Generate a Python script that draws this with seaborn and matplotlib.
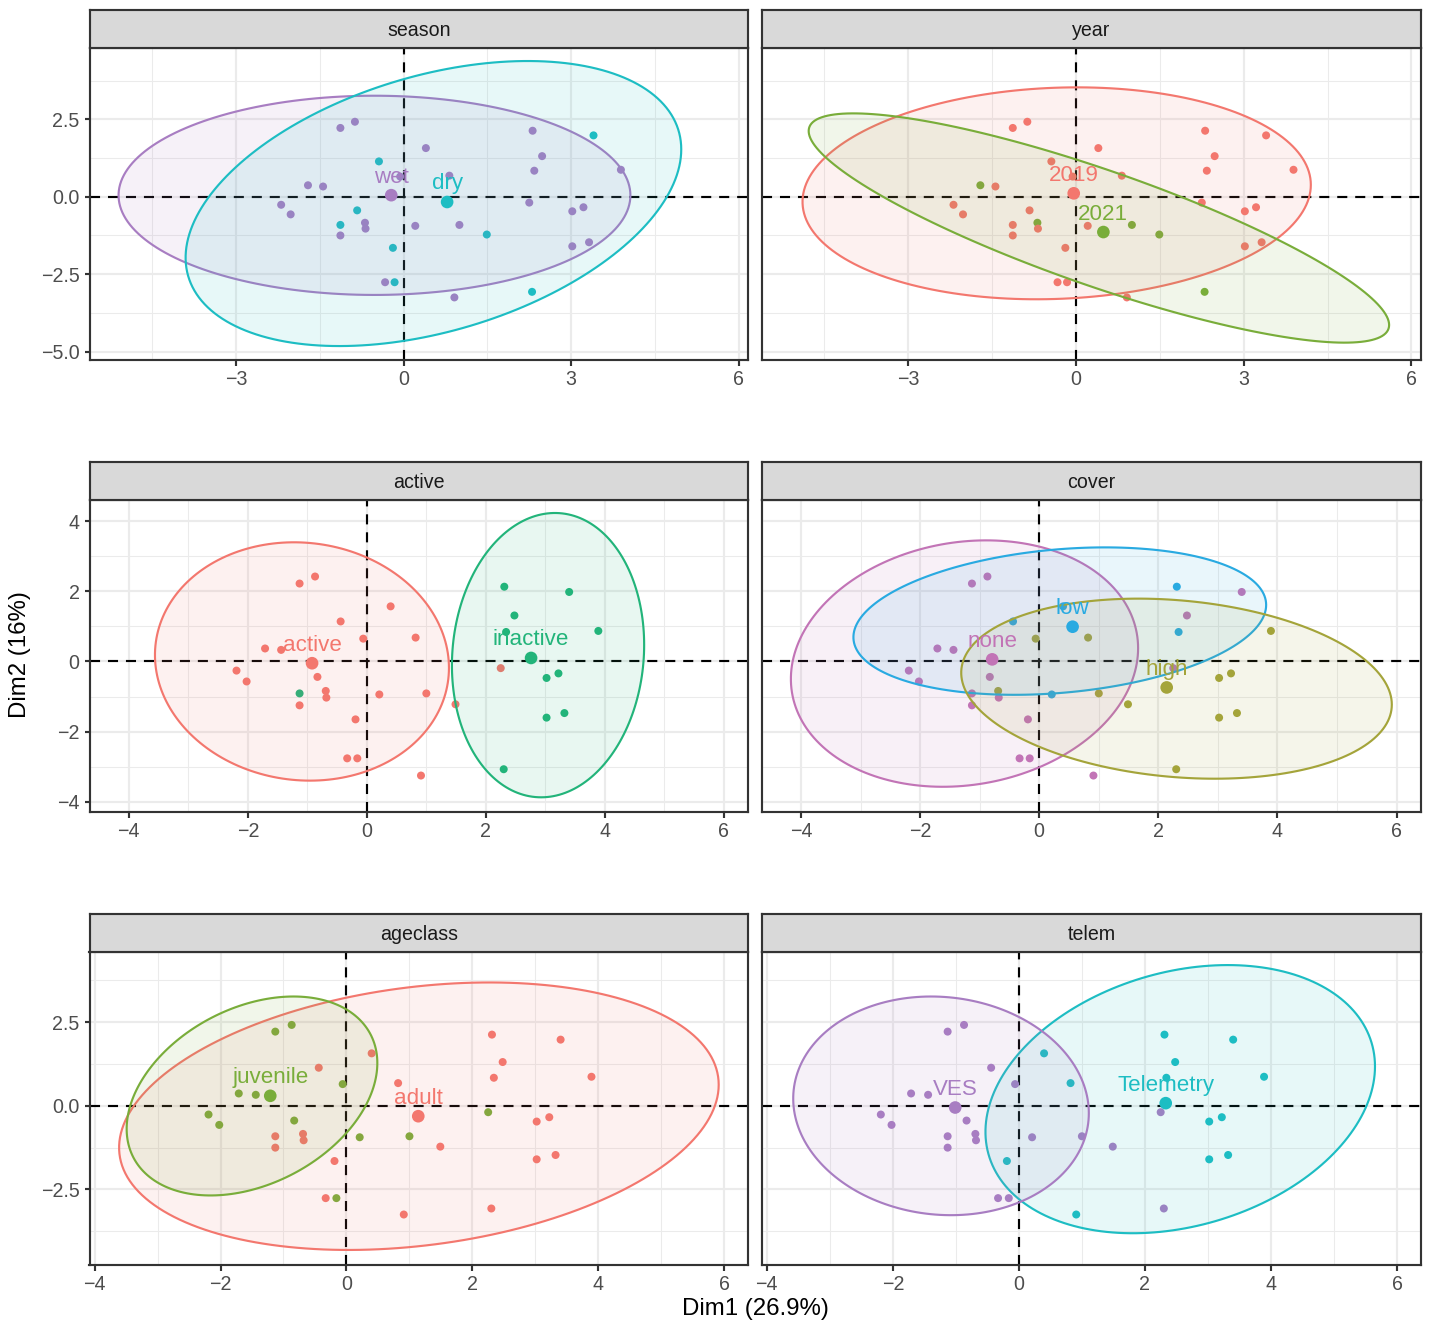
import numpy as np
import pandas as pd
import matplotlib
matplotlib.use("Agg")
import matplotlib.pyplot as plt
from matplotlib.patches import Polygon
from matplotlib.colors import to_rgba
from matplotlib.ticker import MultipleLocator, FuncFormatter
import seaborn as sns

# ---------------- data ----------------
dim1 = [-0.87, -1.13, 0.40, -0.44, 0.82, -0.06, -1.71, -1.44, -2.19, -2.02,
        -0.83, -0.69, -0.68, -1.13, 0.21, 1.00, 1.49, -0.19, -0.33, -0.16,
        0.91, 2.25, 2.31, 3.40, 2.48, 2.34, 3.89, 3.22, 3.02, 3.32,
        3.02, 2.30, -1.13]
dim2 = [2.42, 2.22, 1.57, 1.14, 0.68, 0.65, 0.37, 0.33, -0.26, -0.57,
        -0.44, -0.84, -1.03, -1.25, -0.94, -0.91, -1.22, -1.65, -2.76, -2.76,
        -3.25, -0.19, 2.13, 1.98, 1.31, 0.84, 0.87, -0.34, -0.47, -1.47,
        -1.60, -3.07, -0.91]

season = ["wet", "wet", "wet", "dry", "wet", "wet", "wet", "wet", "wet", "wet",
          "dry", "wet", "wet", "wet", "wet", "wet", "dry", "dry", "wet", "dry",
          "wet", "wet", "wet", "dry", "wet", "wet", "wet", "wet", "wet", "wet",
          "wet", "dry", "dry"]
year = ["2019", "2019", "2019", "2019", "2019", "2019", "2021", "2019", "2019", "2019",
        "2019", "2021", "2019", "2019", "2019", "2021", "2021", "2019", "2019", "2019",
        "2019", "2019", "2019", "2019", "2019", "2019", "2019", "2019", "2019", "2019",
        "2019", "2021", "2019"]
active = ["active"] * 22 + ["inactive"] * 11
cover = ["none", "none", "low", "low", "high", "high", "none", "none", "none", "none",
         "none", "high", "none", "none", "low", "high", "high", "none", "none", "none",
         "none", "none", "low", "none", "none", "low", "high", "high", "high", "high",
         "high", "high", "none"]
ageclass = ["juvenile", "juvenile", "adult", "adult", "adult", "juvenile", "juvenile", "juvenile",
            "juvenile", "juvenile", "juvenile", "adult", "adult", "adult", "juvenile", "juvenile",
            "adult", "adult", "adult", "juvenile", "adult", "juvenile", "adult", "adult",
            "adult", "adult", "adult", "adult", "adult", "adult", "adult", "adult", "adult"]
telem = ["VES", "VES", "Telemetry", "VES", "Telemetry", "VES", "VES", "VES", "VES", "VES",
         "VES", "VES", "VES", "VES", "VES", "VES", "VES", "Telemetry", "VES", "VES",
         "Telemetry", "VES", "Telemetry", "Telemetry", "Telemetry", "Telemetry", "Telemetry",
         "Telemetry", "Telemetry", "Telemetry", "Telemetry", "VES", "VES"]

# group summaries: mean points and normal-ellipse parameters
grp_facet = ["season", "season", "year", "year", "active", "active",
             "cover", "cover", "cover", "ageclass", "ageclass", "telem", "telem"]
grp_level = ["wet", "dry", "2019", "2021", "active", "inactive",
             "none", "low", "high", "adult", "juvenile", "Telemetry", "VES"]
grp_mean1 = [-0.22, 0.78, -0.04, 0.49, -0.92, 2.76, -0.79, 0.56, 2.14, 1.14, -1.21, 2.33, -1.01]
grp_mean2 = [0.05, -0.17, 0.11, -1.14, -0.05, 0.10, 0.06, 0.99, -0.74, -0.31, 0.30, 0.08, -0.05]
ell_cx = [-0.52, 0.535, -0.345, 0.41, -1.09, 3.045, -1.255, 0.345, 2.305, 1.15, -1.50, 2.56, -1.235]
ell_cy = [0.045, -0.22, 0.11, -1.01, 0.0, 0.18, -0.06, 1.15, -0.775, -0.31, 0.295, 0.20, 0.0]
ell_sx = [4.58, 4.435, 4.545, 5.19, 2.47, 1.615, 2.915, 3.465, 3.615, 4.76, 1.99, 3.09, 2.345]
ell_sy = [3.215, 4.60, 3.42, 3.70, 3.395, 4.05, 3.51, 2.10, 2.565, 4.00, 2.975, 4.01, 3.27]
ell_rho = [0.0, 0.38, 0.08, -0.846, -0.054, 0.072, 0.125, 0.219, -0.177, 0.235, 0.331, 0.244, -0.067]

df = pd.DataFrame({"Dim1": dim1, "Dim2": dim2, "season": season, "year": year,
                   "active": active, "cover": cover, "ageclass": ageclass, "telem": telem})
gdf = pd.DataFrame({"facet": grp_facet, "level": grp_level, "m1": grp_mean1, "m2": grp_mean2,
                    "cx": ell_cx, "cy": ell_cy, "sx": ell_sx, "sy": ell_sy, "rho": ell_rho})

# ---------------- styling ----------------
plt.rcParams["font.family"] = ["Liberation Sans", "DejaVu Sans"]
RED, GREEN, CYAN, PURPLE = "#F3776E", "#79AD3A", "#1DBDC3", "#A87DC2"
pal_row = [
    {"2019": RED, "2021": GREEN, "dry": CYAN, "wet": PURPLE},
    {"active": RED, "high": "#A4A43A", "inactive": "#22B47A", "low": "#29AAE1", "none": "#C274B6"},
    {"adult": RED, "juvenile": GREEN, "Telemetry": CYAN, "VES": PURPLE},
]
facets = [["season", "year"], ["active", "cover"], ["ageclass", "telem"]]
row_xlim = [(-5.62, 6.17), (-4.66, 6.41), (-4.08, 6.38)]
row_ylim = [(-5.27, 4.81), (-4.28, 4.60), (-4.76, 4.61)]
row_xmaj = [3, 2, 2]
row_ymaj = [2.5, 2, 2.5]
row_ydec = [1, 0, 1]


def make_fmt(dec):
    return FuncFormatter(lambda v, p: f"{v:.{dec}f}".replace("-", "\u2212"))


W, H = 1432, 1321
DPI = 144
fig = plt.figure(figsize=(W / DPI, H / DPI), dpi=DPI)

col_x = [(89.5, 748.3), (761.7, 1421.0)]
row_y = [(47.7, 360.0), (500.0, 811.7), (951.7, 1265.0)]
strip_h = 38.0

dark = "#333333"
for r in range(3):
    for c in range(2):
        var = facets[r][c]
        pal = pal_row[r]
        x0, x1 = col_x[c]
        y0, y1 = row_y[r]
        ax = fig.add_axes([x0 / W, 1 - y1 / H, (x1 - x0) / W, (y1 - y0) / H])
        sax = fig.add_axes([x0 / W, 1 - y0 / H, (x1 - x0) / W, strip_h / H])
        # strip
        sax.set_facecolor("#D9D9D9")
        sax.set_xticks([]); sax.set_yticks([])
        for sp in sax.spines.values():
            sp.set_color(dark); sp.set_linewidth(1.07)
        sax.text(0.5, 0.5, var, ha="center", va="center_baseline", fontsize=9.8,
                 color="#1A1A1A", transform=sax.transAxes)

        ax.set_facecolor("white")
        ax.set_axisbelow(True)
        ax.axhline(0, color="black", lw=1.07, ls=(0, (4.7, 3.7)), zorder=1.5)
        ax.axvline(0, color="black", lw=1.07, ls=(0, (4.7, 3.7)), zorder=1.5)

        sns.scatterplot(data=df, x="Dim1", y="Dim2", hue=var, palette=pal, s=16,
                        linewidth=0, legend=False, ax=ax, zorder=2)

        sub = gdf[gdf["facet"] == var]
        t = np.linspace(0, 2 * np.pi, 200)
        for _, g in sub.iterrows():
            col = pal[g["level"]]
            ex = g["cx"] + g["sx"] * np.cos(t)
            ey = g["cy"] + g["sy"] * (g["rho"] * np.cos(t) + np.sqrt(1 - g["rho"] ** 2) * np.sin(t))
            poly = Polygon(np.column_stack([ex, ey]), closed=True, facecolor=to_rgba(col, 0.1),
                           edgecolor=col, linewidth=1.07, zorder=3)
            ax.add_patch(poly)
        sns.scatterplot(data=sub, x="m1", y="m2", hue="level", palette=pal, s=40,
                        linewidth=0, legend=False, ax=ax, zorder=4)
        for _, g in sub.iterrows():
            ax.annotate(g["level"], xy=(g["m1"], g["m2"]), xytext=(0, 9),
                        textcoords="offset points", ha="center", va="center",
                        fontsize=11.2, color=pal[g["level"]], zorder=5)

        ax.set_xlim(*row_xlim[r]); ax.set_ylim(*row_ylim[r])
        ax.xaxis.set_major_locator(MultipleLocator(row_xmaj[r]))
        ax.xaxis.set_minor_locator(MultipleLocator(row_xmaj[r] / 2))
        ax.xaxis.set_major_formatter(make_fmt(0))
        ax.yaxis.set_major_locator(MultipleLocator(row_ymaj[r]))
        ax.yaxis.set_minor_locator(MultipleLocator(row_ymaj[r] / 2))
        ax.yaxis.set_major_formatter(make_fmt(row_ydec[r]))
        ax.grid(which="major", color="#EBEBEB", linewidth=1.07)
        ax.grid(which="minor", color="#EBEBEB", linewidth=0.53)
        ax.tick_params(which="minor", length=0)
        ax.tick_params(which="major", length=5.5 / 2, width=1.07, color=dark,
                       labelcolor="#4D4D4D", labelsize=9.8, pad=2.2)
        if c == 1:
            ax.tick_params(axis="y", which="both", left=False, labelleft=False)
        ax.set_xlabel(""); ax.set_ylabel("")
        for sp in ax.spines.values():
            sp.set_color(dark); sp.set_linewidth(1.07)
            sp.set_zorder(6)

fig.text(755.4 / W, 1 - 1309 / H, "Dim1 (26.9%)", ha="center", va="center", fontsize=12, color="black")
fig.text(20 / W, 1 - 655 / H, "Dim2 (16%)", ha="center", va="center", rotation=90, fontsize=12, color="black")

fig.savefig("out.png", dpi=DPI)
